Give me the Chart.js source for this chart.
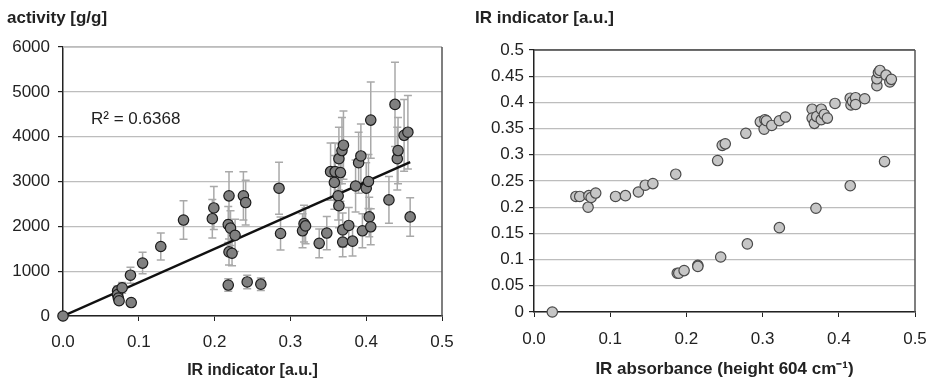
<!DOCTYPE html>
<html>
<head>
<meta charset="utf-8">
<script src="https://cdn.jsdelivr.net/npm/chart.js@4.4.1/dist/chart.umd.min.js"></script>
<style>
  html, body { margin: 0; padding: 0; background: #fff; }
  .wrap { display: flex; width: 930px; height: 383px; }
  .box { position: relative; width: 465px; height: 383px; }
</style>
</head>
<body>
<div class="wrap">
  <div class="box"><canvas id="leftChart"></canvas></div>
  <div class="box"><canvas id="rightChart"></canvas></div>
</div>
<script>
// ---------- left: activity vs IR indicator ----------
const leftX = [0.000,0.072,0.072,0.073,0.074,0.078,0.089,0.090,0.105,0.129,0.159,0.197,0.199,0.218,0.218,0.219,0.219,0.221,0.223,0.227,
               0.238,0.241,0.243,0.261,0.285,0.287,0.316,0.318,0.320,0.338,0.348,0.353,0.358,0.359,0.363,0.364,0.364,0.366,0.368,0.369,
               0.369,0.370,0.377,0.382,0.386,0.390,0.393,0.395,0.400,0.403,0.404,0.406,0.406,0.430,0.438,0.441,0.442,0.450,0.455,0.458];
const leftY = [0,560,480,400,340,630,910,300,1180,1550,2140,2170,2410,690,2040,2680,1430,1960,1400,1800,
               2680,2530,760,710,2850,1840,1900,2060,2010,1620,1850,3220,2980,3220,2680,2460,3510,3200,3690,1650,
               1920,3810,2020,1670,2900,3420,3570,1900,2850,3000,2210,1990,4370,2590,4720,3510,3690,4030,4100,2210];
const leftErr = [0,110,100,80,70,120,180,60,240,300,430,430,480,140,400,540,290,390,280,360,
                 540,500,150,140,580,370,380,410,400,320,370,640,600,640,540,490,700,640,740,330,
                 380,760,400,330,580,680,710,380,570,600,440,400,850,520,940,700,740,800,820,430];
const trendX = [0, 0.458];
const trendY = [0, 3430];
const r2Label = 'R\u00B2 = 0.6368';
const r2Pos = [0.037, 4390];

// ---------- right: IR indicator vs IR absorbance ----------
const rightX = [0.024,0.055,0.060,0.071,0.072,0.075,0.081,0.107,0.120,0.137,0.146,0.156,0.186,0.188,0.190,0.197,0.215,0.215,0.241,0.245,
                0.247,0.251,0.278,0.280,0.297,0.302,0.303,0.305,0.312,0.322,0.322,0.330,0.365,0.365,0.368,0.370,0.371,0.377,0.377,0.381,
                0.385,0.395,0.415,0.415,0.416,0.418,0.422,0.422,0.434,0.450,0.450,0.452,0.454,0.460,0.462,0.467,0.469];
const rightY = [0,0.2205,0.2205,0.200,0.222,0.2185,0.227,0.2205,0.222,0.229,0.242,0.245,0.263,0.074,0.074,0.079,0.089,0.087,0.289,0.105,
                0.318,0.321,0.341,0.130,0.363,0.349,0.367,0.365,0.356,0.365,0.161,0.372,0.387,0.370,0.360,0.198,0.373,0.387,0.367,0.377,
                0.370,0.398,0.408,0.241,0.395,0.402,0.409,0.396,0.407,0.432,0.445,0.457,0.461,0.287,0.452,0.439,0.444];

const FONT = '"Liberation Sans", Arial, sans-serif';
const pts = (xs, ys) => xs.map((x, i) => ({ x: x, y: ys[i] }));

// error bars, frame and corner title
function extras(cfg) {
    return {
        id: 'extras',
        beforeDatasetsDraw(chart) {
            if (!cfg.errors) return;
            const ctx = chart.ctx;
            const xs = chart.scales.x, ys = chart.scales.y;
            const data = chart.data.datasets[0].data;
            ctx.save();
            ctx.strokeStyle = '#a9a9a9';
            ctx.lineWidth = 1.5;
            cfg.errors.forEach((e, i) => {
                if (!e) return;
                const px = xs.getPixelForValue(data[i].x);
                const t = ys.getPixelForValue(data[i].y + e);
                const b = ys.getPixelForValue(data[i].y - e);
                ctx.beginPath();
                ctx.moveTo(px, t); ctx.lineTo(px, b);
                ctx.moveTo(px - 4, t); ctx.lineTo(px + 4, t);
                ctx.moveTo(px - 4, b); ctx.lineTo(px + 4, b);
                ctx.stroke();
            });
            ctx.restore();
        },
        afterDraw(chart) {
            const ctx = chart.ctx;
            const a = chart.chartArea;
            ctx.save();
            ctx.lineWidth = 1.5;
            ctx.strokeStyle = cfg.frameTop;
            ctx.beginPath();
            ctx.moveTo(a.left, a.top); ctx.lineTo(a.right, a.top);
            ctx.stroke();
            ctx.strokeStyle = '#555';
            ctx.beginPath();
            ctx.moveTo(a.right, a.top); ctx.lineTo(a.right, a.bottom);
            ctx.stroke();

            ctx.fillStyle = '#222';
            ctx.font = 'bold ' + cfg.titleSize + 'px ' + FONT;
            ctx.textBaseline = 'middle';
            ctx.textAlign = 'left';
            ctx.fillText(cfg.title, cfg.titleX, 18);

            if (cfg.note) {
                ctx.font = '17px ' + FONT;
                ctx.fillText(cfg.note, chart.scales.x.getPixelForValue(cfg.notePos[0]),
                             chart.scales.y.getPixelForValue(cfg.notePos[1]));
            }
            ctx.restore();
        }
    };
}

function axes(o) {
    return {
        x: {
            type: 'linear', min: 0, max: 0.5,
            border: { color: '#222', width: 1.5 },
            grid: { drawOnChartArea: false, tickColor: '#222', tickLength: 5 },
            ticks: { stepSize: 0.1, color: '#222', font: { family: FONT, size: 17, lineHeight: o.xlh }, padding: 3,
                     callback: v => v.toFixed(1) },
            title: { display: true, text: o.xTitle, color: '#222',
                     font: { family: FONT, size: o.xTitleSize, weight: 'bold' }, padding: { top: 0, bottom: 3 } },
            afterFit: s => { s.height = o.xh; }
        },
        y: {
            type: 'linear', min: 0, max: o.ymax,
            border: { color: '#222', width: 1.5 },
            grid: { color: '#bdbdbd', lineWidth: 1.2, tickColor: '#222', tickLength: 5 },
            ticks: { stepSize: o.ystep, color: '#222', font: { family: FONT, size: 17 }, padding: o.ypad,
                     callback: o.yfmt },
            afterFit: s => { s.width = o.yw; }
        }
    };
}

new Chart(document.getElementById('leftChart'), {
    type: 'scatter',
    data: {
        datasets: [{
            data: pts(leftX, leftY),
            backgroundColor: '#808080',
            borderColor: '#1c1c1c',
            borderWidth: 1.2,
            pointRadius: 5.2,
            clip: false,
            order: 1
        }, {
            data: pts(trendX, trendY),
            showLine: true,
            borderColor: '#111',
            borderWidth: 2.5,
            pointRadius: 0,
            order: 2
        }]
    },
    options: {
        responsive: true,
        maintainAspectRatio: false,
        animation: false,
        layout: { padding: { top: 47, right: 23, left: 0, bottom: 0 } },
        plugins: { legend: { display: false }, tooltip: { enabled: false } },
        scales: axes({ xTitle: 'IR indicator [a.u.]', xTitleSize: 16, xh: 67, xlh: 2.2,
                       ymax: 6000, ystep: 1000, yw: 63, ypad: 8, yfmt: v => String(v) })
    },
    plugins: [extras({ errors: leftErr, frameTop: '#bdbdbd', title: 'activity [g/g]', titleSize: 17, titleX: 7,
                       note: r2Label, notePos: r2Pos })]
});

new Chart(document.getElementById('rightChart'), {
    type: 'scatter',
    data: {
        datasets: [{
            data: pts(rightX, rightY),
            backgroundColor: '#c6c6c6',
            borderColor: '#4a4a4a',
            borderWidth: 1.2,
            pointRadius: 5.2,
            clip: false
        }]
    },
    options: {
        responsive: true,
        maintainAspectRatio: false,
        animation: false,
        layout: { padding: { top: 50, right: 15, left: 0, bottom: 0 } },
        plugins: { legend: { display: false }, tooltip: { enabled: false } },
        scales: axes({ xTitle: 'IR absorbance (height 604 cm\u207B\u00B9)', xTitleSize: 17, xh: 71, xlh: 2.3,
                       ymax: 0.5, ystep: 0.05, yw: 69, ypad: 5, yfmt: v => String(+v.toFixed(2)) })
    },
    plugins: [extras({ frameTop: '#444', title: 'IR indicator [a.u.]', titleSize: 17, titleX: 10 })]
});
</script>
</body>
</html>
